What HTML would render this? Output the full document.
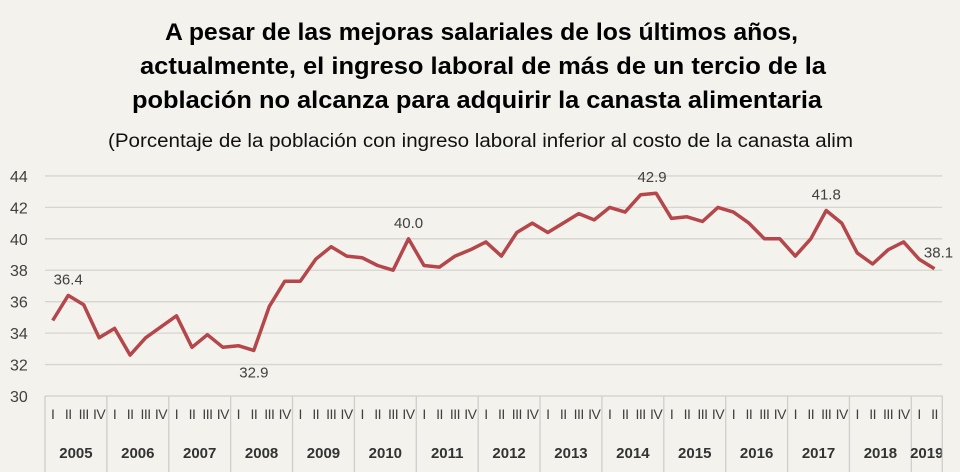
<!DOCTYPE html>
<html><head><meta charset="utf-8"><style>
html,body{margin:0;padding:0;background:#f3f2ed;}
svg{display:block;font-family:"Liberation Sans",sans-serif;}
</style></head><body>
<svg id="s" width="960" height="472" xmlns="http://www.w3.org/2000/svg">
<rect width="960" height="472" fill="#f3f2ed"/>
<g font-weight="bold" font-size="24" fill="#000">
<text x="165" y="40" textLength="633" lengthAdjust="spacingAndGlyphs">A pesar de las mejoras salariales de los últimos años,</text>
<text x="140" y="74" textLength="686" lengthAdjust="spacingAndGlyphs">actualmente, el ingreso laboral de más de un tercio de la</text>
<text x="132" y="108" textLength="690" lengthAdjust="spacingAndGlyphs">población no alcanza para adquirir la canasta alimentaria</text>
</g>
<text x="108" y="147" font-size="19" fill="#111" textLength="745" lengthAdjust="spacingAndGlyphs">(Porcentaje de la población con ingreso laboral inferior al costo de la canasta alim</text>
<g id="grid"></g>
<g id="ax"></g>
<polyline id="ln" fill="none" stroke="#b5474b" stroke-width="3.5" stroke-linejoin="round"/>
<g font-size="15" fill="#404040" id="lbl"></g>
</svg>
<script>
var d=[34.8,36.4,35.8,33.7,34.3,32.6,33.7,34.4,35.1,33.1,33.9,33.1,33.2,32.9,35.7,37.3,37.3,38.7,39.5,38.9,38.8,38.3,38.0,40.0,38.3,38.2,38.9,39.3,39.8,38.9,40.4,41.0,40.4,41.0,41.6,41.2,42.0,41.7,42.8,42.9,41.3,41.4,41.1,42.0,41.7,41.0,40.0,40.0,38.9,40.0,41.8,41.0,39.1,38.4,39.3,39.8,38.7,38.1];
var x0=45,w=15.47,NS="http://www.w3.org/2000/svg";
function Y(v){return 396-(v-30)*15.72;}
function X(i){return x0+w*(i+0.5);}
function el(p,t,a,txt){var e=document.createElementNS(NS,t);for(var k in a)e.setAttribute(k,a[k]);if(txt!=null)e.textContent=txt;document.getElementById(p).appendChild(e);return e;}
var xr=x0+58*w;
for(var v=30;v<=44;v+=2){
 if(v>30)el("grid","line",{x1:x0,x2:xr,y1:Y(v),y2:Y(v),stroke:"#d6d5d0","stroke-width":1.3});
 el("grid","text",{x:10,y:Y(v)+6,"font-size":16,fill:"#404040"},v);
}
el("ax","line",{x1:x0,x2:xr,y1:396,y2:396,stroke:"#cfcecb","stroke-width":1.3});
for(var y=0;y<=15;y++){
 var xb=x0+y*4*w; if(xb>xr)xb=xr;
 el("ax","line",{x1:xb,x2:xb,y1:396,y2:472,stroke:"#cfcecb","stroke-width":1.3});
 if(y<15){
  var n=(y==14)?2:4, xm=x0+y*4*w+n*w/2;
  var r=["I","II","III","IV"];
  for(var q=0;q<n;q++)el("ax","text",{x:X(y*4+q),y:419,"font-size":14,fill:"#404040","text-anchor":"middle","letter-spacing":"-0.5"},r[q]);
  el("ax","text",{x:xm,y:458,"font-size":15,"font-weight":"bold",fill:"#333","text-anchor":"middle"},2005+y);
 }
}
document.getElementById("ln").setAttribute("points",d.map(function(v,i){return X(i).toFixed(1)+","+Y(v).toFixed(1)}).join(" "));
[[1,"36.4",0,-16],[13,"32.9",0,22],[23,"40.0",0,-16],[39,"42.9",-4,-16],[50,"41.8",0,-16],[57,"38.1",4,-16]].forEach(function(a){
 el("lbl","text",{x:X(a[0])+a[2],y:Y(d[a[0]])+a[3]+5,"text-anchor":"middle"},a[1]);});
</script>
</body></html>
